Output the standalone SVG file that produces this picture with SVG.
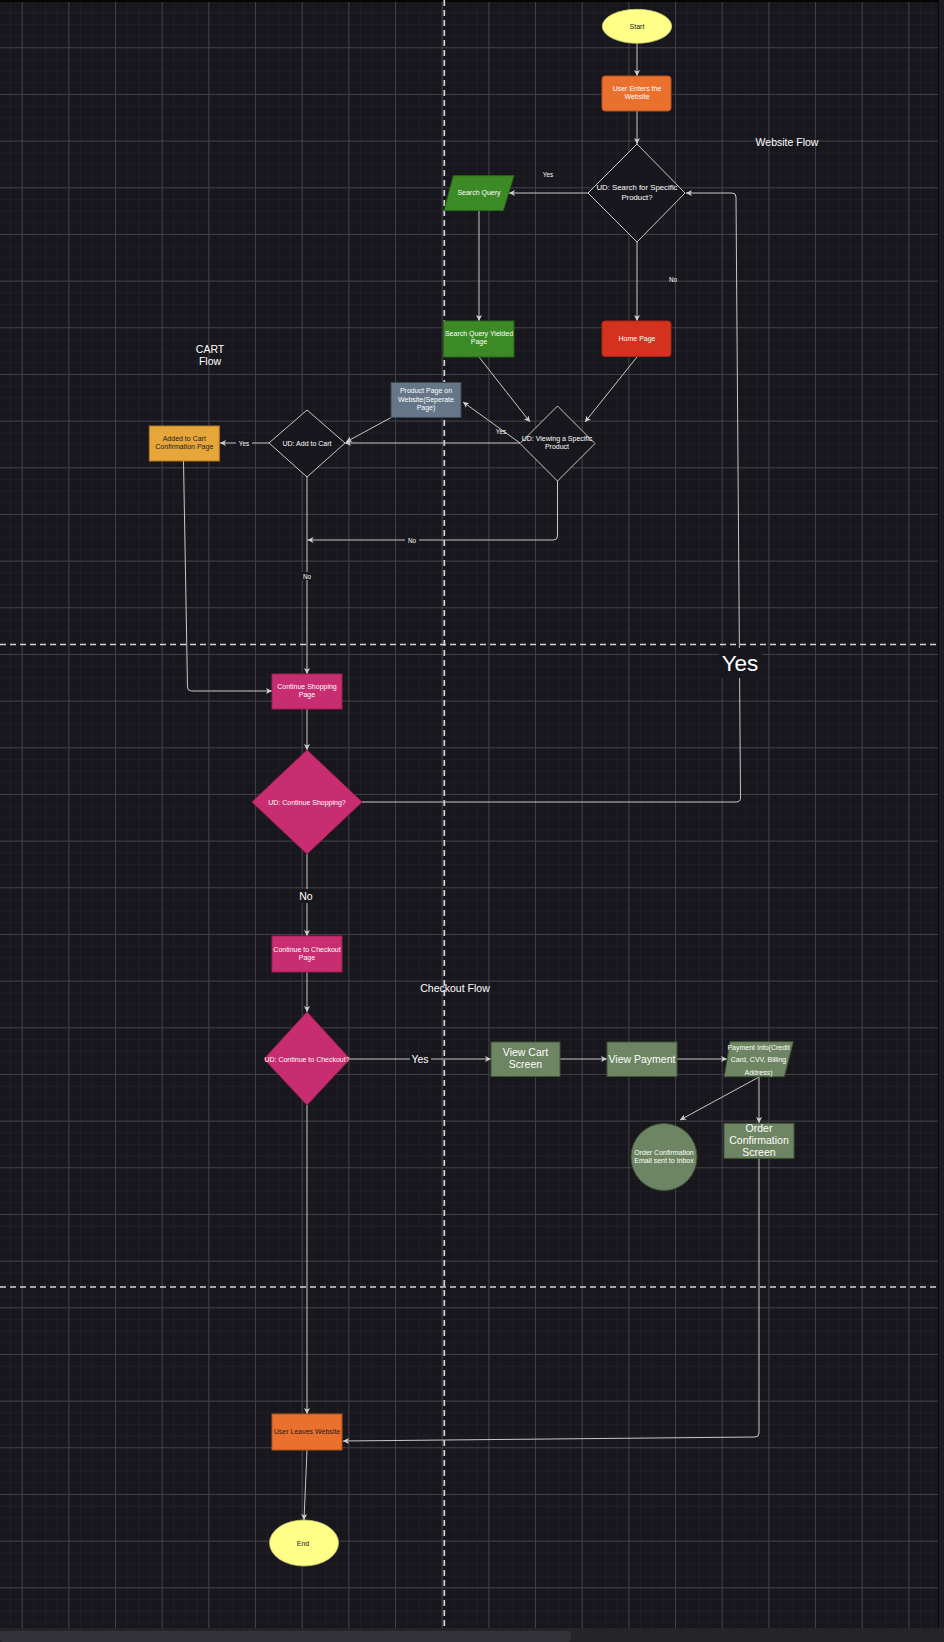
<svg xmlns="http://www.w3.org/2000/svg" width="944" height="1642" viewBox="0 0 944 1642">
<defs>
<pattern id="minor" x="21.7" y="0.6" width="11.667" height="11.667" patternUnits="userSpaceOnUse">
<path d="M0,0 V11.667 M0,0 H11.667" stroke="#26252b" stroke-width="1" fill="none"/>
</pattern>
<pattern id="major" x="21.7" y="0.6" width="46.667" height="46.667" patternUnits="userSpaceOnUse">
<path d="M0.5,0 V46.667 M0,0.5 H46.667" stroke="#404046" stroke-width="1" fill="none"/>
</pattern>
<marker id="arr" markerUnits="userSpaceOnUse" markerWidth="7" markerHeight="6" refX="6" refY="3" orient="auto">
<path d="M0,0 L6,3 L0,6 L1.6,3 z" fill="#d0d0d0"/>
</marker>
<style>
.t{font-family:"Liberation Sans",Arial,Helvetica,sans-serif;text-anchor:middle;dominant-baseline:central;fill:#ffffff}
.s7{font-size:7px}
.s6{font-size:6.3px}
.s10{font-size:10.5px}
.dark{fill:#222222}
.c{fill:none;stroke:#c8c8c8;stroke-width:1}
.ca{fill:none;stroke:#c8c8c8;stroke-width:1;marker-end:url(#arr)}
.dash{stroke:#d4d4d4;stroke-width:1.7;stroke-dasharray:6 4;fill:none}
.dia{fill:#18171d;stroke:#c8c8c8;stroke-width:1}
.pink{fill:#c72d70;stroke:#a0204f;stroke-width:1}
.sage{fill:#6d8562;stroke:#3f5537;stroke-width:1}
.green{fill:#3b8a25;stroke:#2a651a;stroke-width:1}
.orange{fill:#ea702e;stroke:#b5501a;stroke-width:1}
.yellow{fill:#ffff88;stroke:#c8c870;stroke-width:0.8}
.lbg{fill:#18171d}
</style>
</defs>
<rect x="0" y="0" width="944" height="1642" fill="#18171d"/>
<rect x="0" y="0" width="938" height="1628" fill="url(#minor)"/>
<rect x="0" y="0" width="938" height="1628" fill="url(#major)"/>
<rect x="0" y="0" width="944" height="2" fill="#050505"/>
<rect x="938" y="0" width="6" height="1642" fill="#1d1c22"/>
<line x1="938.5" y1="0" x2="938.5" y2="1628" stroke="#08080a" stroke-width="1"/>
<rect x="0" y="1628" width="944" height="14" fill="#252429"/>
<rect x="0" y="1631" width="571" height="11" rx="3" fill="#333238"/>

<g id="separators">
<line class="dash" x1="444.3" y1="0" x2="444.3" y2="1628"/>
<line class="dash" x1="0" y1="644.5" x2="938" y2="644.5"/>
<line class="dash" x1="0" y1="1287" x2="938" y2="1287"/>
</g>

<g id="section-labels">
<text class="t s10" x="787" y="142">Website Flow</text>
<text class="t s10" x="210" y="349">CART</text>
<text class="t s10" x="210" y="361">Flow</text>
<text class="t s10" x="455" y="988">Checkout Flow</text>
</g>

<g id="connectors">
<line class="ca" x1="637" y1="43.5" x2="637" y2="76"/>
<line class="ca" x1="637" y1="111" x2="637" y2="144"/>
<line class="ca" x1="588" y1="193" x2="509" y2="193"/>
<line class="ca" x1="637" y1="242" x2="637" y2="321"/>
<line class="ca" x1="479" y1="211" x2="479" y2="321"/>
<line class="ca" x1="479" y1="357" x2="530" y2="422"/>
<line class="ca" x1="637" y1="357" x2="585" y2="422"/>
<line class="ca" x1="520" y1="443" x2="463" y2="402"/>
<line class="ca" x1="520" y1="443" x2="345" y2="443"/>
<line class="ca" x1="392" y1="417" x2="346" y2="442"/>
<line class="ca" x1="269" y1="443" x2="220" y2="443"/>
<path class="ca" d="M557.5,481 V536 Q557.5,540 553.5,540 H307.5"/>
<line class="ca" x1="307" y1="477" x2="307" y2="674"/>
<path class="ca" d="M183.5,461 L187.5,687 Q187.5,691 191.5,691 H272"/>
<line class="ca" x1="307" y1="709" x2="307" y2="750"/>
<path class="ca" d="M362,802 H736 Q740.5,802 740.5,798 L736,197 Q736,193 732,193 H686"/>
<line class="ca" x1="307" y1="854" x2="307" y2="936"/>
<line class="ca" x1="307" y1="972" x2="307" y2="1012"/>
<line class="ca" x1="350" y1="1059" x2="491" y2="1059"/>
<line class="ca" x1="560" y1="1059" x2="607" y2="1059"/>
<line class="ca" x1="677" y1="1059" x2="727" y2="1059"/>
<line class="ca" x1="759" y1="1077" x2="680" y2="1120"/>
<line class="ca" x1="759" y1="1077" x2="759" y2="1123"/>
<path class="ca" d="M759,1158 V1433 Q759,1437 755,1437 L343,1441"/>
<line class="ca" x1="307" y1="1105" x2="307" y2="1414"/>
<line class="ca" x1="307" y1="1450" x2="304" y2="1520"/>
</g>

<g id="connector-labels">
<text class="t s6" x="548" y="174">Yes</text>
<text class="t s6" x="673" y="279">No</text>
<text class="t s6" x="501" y="431">Yes</text>
<rect class="lbg" x="236" y="439" width="16" height="8"/>
<text class="t s6" x="244" y="443">Yes</text>
<rect class="lbg" x="405" y="536" width="14" height="8"/>
<text class="t s6" x="412" y="540">No</text>
<rect class="lbg" x="301" y="572" width="12" height="8"/>
<text class="t s6" x="307" y="576">No</text>
<rect class="lbg" x="719" y="648" width="43" height="30"/>
<text class="t" style="font-size:22.5px" x="740" y="663">Yes</text>
<rect class="lbg" x="298" y="889" width="17" height="14"/>
<text class="t s10" x="306" y="896">No</text>
<rect class="lbg" x="410" y="1052" width="21" height="14"/>
<text class="t s10" x="420" y="1059">Yes</text>
</g>

<g id="start">
<ellipse class="yellow" cx="637" cy="26.3" rx="34.7" ry="17"/>
<text class="t s7 dark" x="637" y="26">Start</text>
</g>
<g id="user-enters">
<rect class="orange" x="602" y="76" width="69" height="35" rx="3"/>
<text class="t s7" x="637" y="88.5">User Enters the</text>
<text class="t s7" x="637" y="96.8">Website</text>
</g>
<g id="search-decision">
<polygon class="dia" points="637,144 685,193 637,242 588,193"/>
<text class="t" style="font-size:7.8px" x="637" y="187">UD: Search for Specific</text>
<text class="t" style="font-size:7.8px" x="637" y="197.5">Product?</text>
</g>
<g id="search-query">
<polygon class="green" points="453.3,175.7 514,175.7 503.3,210.5 444,210.5"/>
<text class="t s7" x="479" y="192.5">Search Query</text>
</g>
<g id="search-yielded">
<rect class="green" x="443.5" y="321" width="70.5" height="36"/>
<text class="t s7" x="479" y="333.4">Search Query Yielded</text>
<text class="t s7" x="479" y="341.7">Page</text>
</g>
<g id="home-page">
<rect x="602" y="321" width="69" height="35.5" rx="3" fill="#d4321f" stroke="#a82414" stroke-width="1"/>
<text class="t s7" x="637" y="338.5">Home Page</text>
</g>
<g id="product-page">
<rect x="391" y="382.5" width="70" height="35" fill="#647687" stroke="#3a4858" stroke-width="1"/>
<text class="t s7" x="426" y="390.7">Product Page on</text>
<text class="t s7" x="426" y="399">Website(Seperate</text>
<text class="t s7" x="426" y="407.3">Page)</text>
</g>
<g id="viewing-decision">
<polygon class="dia" points="557.5,406 595,443.5 557.5,481 520,443.5"/>
<text class="t s7" x="557" y="438.7">UD: Viewing a Specific</text>
<text class="t s7" x="557" y="446.8">Product</text>
</g>
<g id="add-to-cart-decision">
<polygon class="dia" points="307,410 345,443 307,477 269,443"/>
<text class="t s7" x="307" y="443">UD: Add to Cart</text>
</g>
<g id="added-to-cart">
<rect x="149.3" y="426" width="70" height="35" fill="#e6a63a" stroke="#b07818" stroke-width="1"/>
<text class="t s7 dark" x="184.3" y="438.7">Added to Cart</text>
<text class="t s7 dark" x="184.3" y="446.8">Confirmation Page</text>
</g>
<g id="continue-shopping-page">
<rect class="pink" x="272" y="674" width="70" height="35"/>
<text class="t s7" x="307" y="686.3">Continue Shopping</text>
<text class="t s7" x="307" y="694.7">Page</text>
</g>
<g id="continue-shopping-decision">
<polygon class="pink" points="307,750 362,802 307,854 252,802" stroke="none"/>
<text class="t s7" x="307" y="802">UD: Continue Shopping?</text>
</g>
<g id="checkout-page">
<rect class="pink" x="272" y="936" width="70" height="36"/>
<text class="t s7" x="307" y="949.3">Continue to Checkout</text>
<text class="t s7" x="307" y="957.7">Page</text>
</g>
<g id="checkout-decision">
<polygon class="pink" points="307,1012 350,1059 307,1105 264,1059" stroke="none"/>
<text class="t s7" x="307" y="1059">UD: Continue to Checkout?</text>
</g>
<g id="view-cart">
<rect class="sage" x="491" y="1042" width="69" height="34.5"/>
<text class="t s10" x="525.5" y="1052.3">View Cart</text>
<text class="t s10" x="525.5" y="1064.3">Screen</text>
</g>
<g id="view-payment">
<rect class="sage" x="607" y="1042" width="70" height="34.5"/>
<text class="t s10" x="642" y="1058.5">View Payment</text>
</g>
<g id="payment-info">
<polygon class="sage" points="730,1041.7 793.3,1041.7 784.3,1076.7 724.3,1076.7"/>
<text class="t s7" x="758.5" y="1047.3">Payment Info(Credit</text>
<text class="t s7" x="758.5" y="1059.3">Card, CVV, Billing</text>
<text class="t s7" x="758.5" y="1072.3">Address)</text>
</g>
<g id="order-email">
<ellipse class="sage" cx="664" cy="1157" rx="33" ry="33.5"/>
<text class="t s7" x="664" y="1152.7">Order Confirmation</text>
<text class="t s7" x="664" y="1160.5">Email sent to Inbox</text>
</g>
<g id="order-screen">
<rect class="sage" x="724" y="1123.3" width="70" height="35"/>
<text class="t s10" x="759" y="1127.5">Order</text>
<text class="t s10" x="759" y="1140">Confirmation</text>
<text class="t s10" x="759" y="1152.3">Screen</text>
</g>
<g id="user-leaves">
<rect class="orange" x="272" y="1414" width="70" height="36"/>
<text class="t s7 dark" x="307" y="1431.7">User Leaves Website</text>
</g>
<g id="end">
<ellipse class="yellow" cx="304" cy="1543" rx="34.5" ry="23"/>
<text class="t s7 dark" x="303" y="1543">End</text>
</g>
</svg>
